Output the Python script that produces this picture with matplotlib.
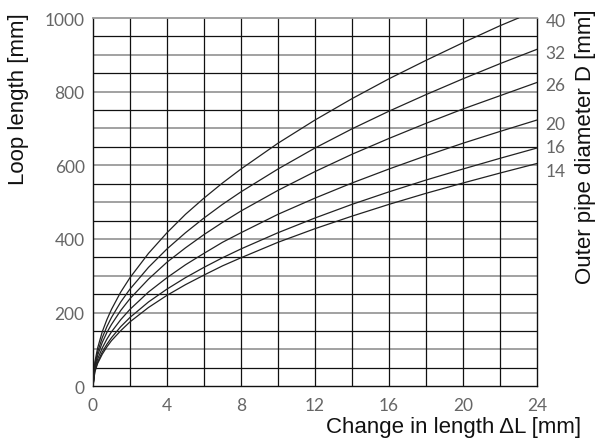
import numpy as np
import matplotlib.pyplot as plt

# ---- values ----
dl = [0, 0.1, 0.25, 0.5, 0.75, 1, 1.5, 2, 3, 4, 5, 6, 7, 8, 10, 12, 14, 16, 18, 20, 22, 24]

loop_d40 = [0, 66, 104, 148, 181, 209, 256, 295, 361, 417, 467, 511, 552, 590, 660, 723, 781, 835, 885, 933, 979]
loop_d32 = [0, 59, 93, 132, 162, 187, 229, 264, 323, 373, 417, 457, 494, 528, 590, 647, 699, 747, 792, 835, 876, 915]
loop_d26 = [0, 53, 84, 119, 146, 168, 206, 238, 291, 337, 376, 412, 445, 476, 532, 583, 630, 673, 714, 753, 789, 825]
loop_d20 = [0, 47, 74, 104, 128, 148, 181, 209, 256, 295, 330, 361, 391, 417, 467, 511, 552, 590, 626, 660, 692, 723]
loop_d16 = [0, 42, 66, 93, 114, 132, 162, 187, 229, 264, 295, 323, 349, 373, 417, 457, 494, 528, 560, 590, 619, 647]
loop_d14 = [0, 39, 62, 87, 107, 124, 151, 175, 214, 247, 276, 302, 327, 349, 391, 428, 462, 494, 524, 552, 579, 605]

# D=40 leaves the chart at the top edge
d40_end = (23.0, 1000)

diam_labels = ['40', '32', '26', '20', '16', '14']
diam_label_y = [997, 910, 821, 716, 653, 588]

x_ticks = [0, 4, 8, 12, 16, 20, 24]
y_ticks = [0, 200, 400, 600, 800, 1000]

# ---- figure ----
fig = plt.figure(figsize=(5.97, 4.39), dpi=100)
ax = fig.add_axes([93 / 597, (439 - 387.3) / 439, 444 / 597, 368.3 / 439])

tick_font = dict(family=['Lato', 'DejaVu Sans'], fontweight='normal', color='#666666', fontsize=12.5)
label_font = dict(family=['Liberation Sans', 'DejaVu Sans'], color='#111111', fontsize=16)

# grid: odd 50s black thin, hundreds grey and a bit heavier
for y in range(50, 1000, 100):
    ax.axhline(y, color='#111111', lw=0.9, zorder=1)
for y in range(100, 1000, 100):
    ax.axhline(y, color='#9a9a9a', lw=1.3, zorder=1)
for x in range(2, 24, 2):
    ax.axvline(x, color='#111111', lw=0.9, zorder=1)

curves = [loop_d32, loop_d26, loop_d20, loop_d16, loop_d14]
for ys in curves:
    ax.plot(dl, ys, color='#222222', lw=0.9, zorder=3)
ax.plot(dl[:len(loop_d40)] + [d40_end[0]], loop_d40 + [d40_end[1]],
        color='#222222', lw=0.9, zorder=3)

ax.set_xlim(0, 24)
ax.set_ylim(0, 1000)
ax.set_xticks(x_ticks)
ax.set_yticks(y_ticks)
ax.set_xticklabels([str(v) for v in x_ticks], **tick_font)
ax.set_yticklabels([str(v) for v in y_ticks], **tick_font)
ax.tick_params(length=0, pad=6)
ax.tick_params(axis='x', pad=8)

for side in ['left', 'bottom', 'right']:
    ax.spines[side].set_color('#111111')
    ax.spines[side].set_linewidth(1.0)
ax.spines['top'].set_color('#9a9a9a')
ax.spines['top'].set_linewidth(1.3)

ax2 = ax.twinx()
ax2.set_ylim(0, 1000)
ax2.set_yticks(diam_label_y)
ax2.set_yticklabels(diam_labels, **tick_font)
ax2.tick_params(length=0, pad=6)
for s in ax2.spines.values():
    s.set_visible(False)

fig.text(19 / 597, (439 - 13) / 439, 'Loop length [mm]', rotation=90,
         ha='center', va='top', **label_font)
fig.text(585 / 597, (439 - 9) / 439, 'Outer pipe diameter D [mm]', rotation=90,
         ha='center', va='top', **label_font)
fig.text(581 / 597, 1 / 439, 'Change in length \u0394L [mm]',
         ha='right', va='bottom', **label_font)

fig.savefig('out.png', dpi=100)
